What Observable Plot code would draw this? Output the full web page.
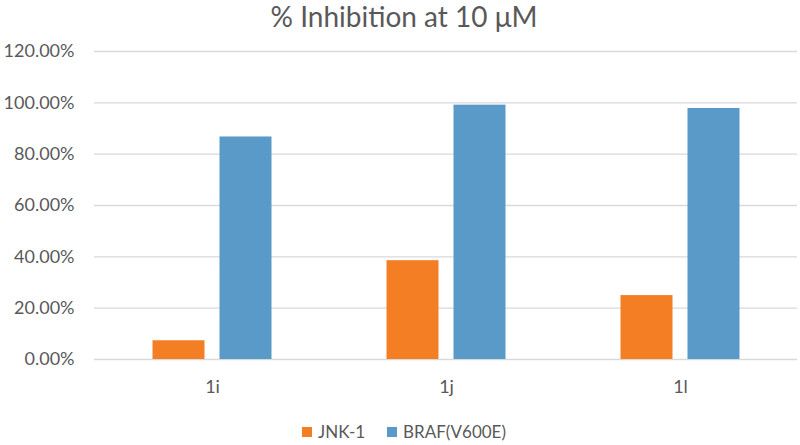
<!DOCTYPE html>
<html><head><meta charset="utf-8">
<script src="https://cdn.jsdelivr.net/npm/d3@7"></script>
<script src="https://cdn.jsdelivr.net/npm/@observablehq/plot@0.6"></script>
<style>
body{margin:0;background:#fff;font-family:Lato,sans-serif;width:800px;height:445px;overflow:hidden}
#title{height:32px;line-height:32px;font-size:28px;color:#595959;text-align:center;padding-left:8px}
#legend{display:flex;justify-content:center;padding-top:8px;padding-left:30px}
.lg-swatch{margin-right:22px !important}
.lg-swatch svg{margin-right:6px !important}
</style></head>
<body>
<div id="title">% Inhibition at 10 μM</div>
<div id="chart"></div>
<div id="legend"></div>
<script>
const categories = ["1i", "1j", "1l"];
const seriesNames = ["JNK-1", "BRAF(V600E)"];
const jnk1 = [0.073, 0.385, 0.249];
const brafV600E = [0.867, 0.991, 0.978];
const yTicks = [0, 0.2, 0.4, 0.6, 0.8, 1.0, 1.2];
const colors = ["#F37E24", "#5A9AC9"];

const rows = categories.flatMap((c, i) => [
  {category: c, series: seriesNames[0], value: jnk1[i]},
  {category: c, series: seriesNames[1], value: brafV600E[i]}
]);

const chart = Plot.plot({
  width: 800,
  height: 375,
  marginLeft: 94,
  marginRight: 3,
  marginTop: 19,
  marginBottom: 48,
  style: {fontFamily: "Lato, sans-serif", fontSize: "18px", color: "#595959", background: "#fff"},
  x: {type: "band", domain: categories, paddingInner: 0.778, paddingOuter: 0.389, label: null},
  y: {domain: [0, 1.2], label: null},
  color: {domain: seriesNames, range: colors},
  marks: [
    Plot.gridY(yTicks, {stroke: "#d9d9d9", strokeOpacity: 1, strokeWidth: 1.3}),
    Plot.axisY(yTicks, {tickSize: 0, tickPadding: 20, tickFormat: d3.format(".2%"), label: null}),
    Plot.axisX({tickSize: 0, tickPadding: 21, label: null}),
    Plot.barY(rows.filter(d => d.series === seriesNames[0]), {x: "category", y: "value", fill: "series", dx: -33.5}),
    Plot.barY(rows.filter(d => d.series === seriesNames[1]), {x: "category", y: "value", fill: "series", dx: 33.5})
  ]
});
document.getElementById("chart").append(chart);

const legend = Plot.legend({
  legend: "swatches",
  color: {domain: seriesNames, range: colors},
  swatchSize: 10,
  className: "lg",
  style: {fontFamily: "Lato, sans-serif", fontSize: "17px", color: "#595959"}
});
document.getElementById("legend").append(legend);
</script>
</body></html>
